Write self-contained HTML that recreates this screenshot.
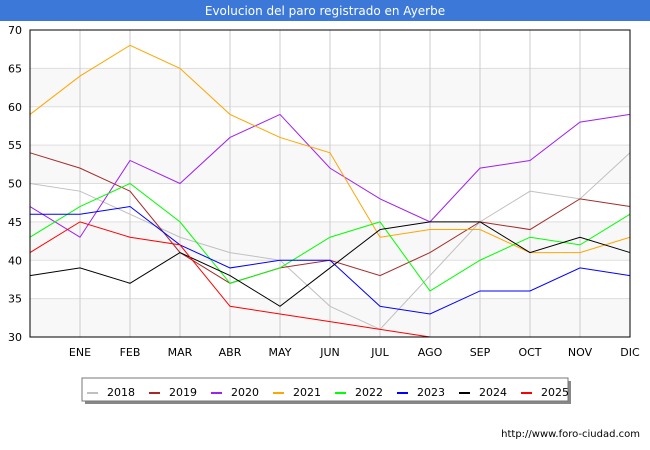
<!DOCTYPE html>
<html><head><meta charset="utf-8"><style>
body{margin:0;width:650px;height:450px;background:#fff;font-family:"Liberation Sans","DejaVu Sans",sans-serif;overflow:hidden}
</style></head><body>
<svg id="c" width="650" height="450" xmlns="http://www.w3.org/2000/svg" style="position:absolute;left:0;top:0">
<rect x="0" y="0" width="650" height="21" fill="#3c78d8"/>
<text x="325" y="15" text-anchor="middle" font-size="12" fill="#fff" font-family="DejaVu Sans, sans-serif">Evolucion del paro registrado en Ayerbe</text>
<g id="grid"></g><g id="series"></g><g id="axes"></g>
<rect x="30" y="30" width="600" height="307" fill="none" stroke="#000" stroke-width="1"/>
<rect x="85" y="381" width="486" height="23" fill="#888"/>
<rect x="82" y="378" width="486" height="23" fill="#fff" stroke="#777"/>
<g id="legend"></g>
<text x="640" y="437" text-anchor="end" font-size="10" font-family="DejaVu Sans, sans-serif" fill="#000">http://www.foro-ciudad.com</text>
</svg>
<script>
const months=["","ENE","FEB","MAR","ABR","MAY","JUN","JUL","AGO","SEP","OCT","NOV","DIC"];
const yTicks=[30,35,40,45,50,55,60,65,70];
const years=["2018","2019","2020","2021","2022","2023","2024","2025"];
const colors=["#c0c0c0","#a52a2a","#a020f0","#ffa500","#00ff00","#0000ff","#000000","#ff0000"];
const s2018=[50,49,46,43,41,40,34,31,38,45,49,48,54];
const s2019=[54,52,49,41,37,39,40,38,41,45,44,48,47];
const s2020=[47,43,53,50,56,59,52,48,45,52,53,58,59];
const s2021=[59,64,68,65,59,56,54,43,44,44,41,41,43];
const s2022=[43,47,50,45,37,39,43,45,36,40,43,42,46];
const s2023=[46,46,47,42,39,40,40,34,33,36,36,39,38];
const s2024=[38,39,37,41,38,34,39,44,45,45,41,43,41];
const s2025=[41,45,43,42,34,33,32,31,30];
const allSeries=[s2018,s2019,s2020,s2021,s2022,s2023,s2024,s2025];
const NS="http://www.w3.org/2000/svg";
const X=i=>30+i*50, Y=v=>337-(v-30)*307/40;
function mk(t,a,p){const e=document.createElementNS(NS,t);for(const k in a)e.setAttribute(k,a[k]);p.appendChild(e);return e;}
const grid=document.getElementById('grid'),axes=document.getElementById('axes');
for(let i=0;i<yTicks.length-1;i++){
  if(i%2===0){const b=mk('rect',{x:30,y:Y(yTicks[i+1]),width:600,height:Y(yTicks[i])-Y(yTicks[i+1]),fill:(i%2===0?'#f8f8f8':'#fff')},grid);
  
  }
}
yTicks.forEach(v=>{
  const l=mk('line',{x1:30,x2:630,y1:Y(v),y2:Y(v),stroke:'#ddd'},grid);
  
  
  const t=mk('text',{x:22,y:Y(v)+4,'text-anchor':'end','font-size':11,'font-family':'DejaVu Sans, sans-serif'},axes);t.textContent=v;
  
  
});
months.forEach((m,i)=>{
  if(i===0)return;
  const l=mk('line',{x1:X(i),x2:X(i),y1:30,y2:337,stroke:'#ccc'},grid);
  
  
  const t=mk('text',{x:X(i),y:356,'text-anchor':'middle','font-size':11,'font-family':'DejaVu Sans, sans-serif'},axes);t.textContent=m;
  
  
});
const sg=document.getElementById('series');
allSeries.forEach((s,k)=>{
  const p=mk('polyline',{points:s.map((v,i)=>X(i)+','+Y(v)).join(' '),fill:'none',stroke:colors[k],'stroke-width':1},sg);
  
  
});
const lg=document.getElementById('legend');
years.forEach((y,k)=>{
  const x=87+k*62;
  const r=mk('rect',{x:x,y:392,width:11,height:2,fill:colors[k]},lg);
  
  
  const t=mk('text',{x:x+20,y:396,'font-size':11,'font-family':'DejaVu Sans, sans-serif'},lg);t.textContent=y;
  
  
});
</script>
</body></html>
